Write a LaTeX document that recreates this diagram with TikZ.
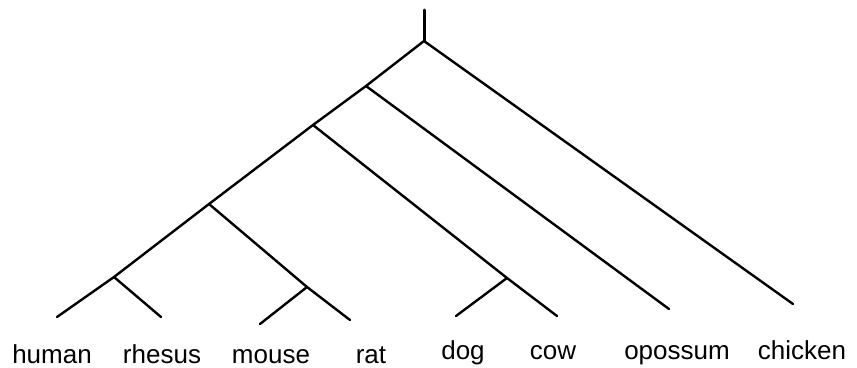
\documentclass[tikz,border=0pt]{standalone}
\usepackage{fontspec}
\setmainfont{Liberation Sans}
\usepackage{tikz}

\begin{document}
\begin{tikzpicture}[
  x=1pt, y=-1pt,
  branch/.style={
    draw=black,
    line width=2.4pt,
    line cap=round
  },
  taxon/.style={
    font=\fontsize{26}{30}\selectfont,
    anchor=base,
    inner sep=0pt
  }
]

\useasboundingbox (0,0) rectangle (857,367);

% -------------------------------------------------------------------
% inner nodes of the tree
% -------------------------------------------------------------------
\coordinate (top)      at (424,10);
\coordinate (root)     at (424,41);
\coordinate (theria)   at (366,86);
\coordinate (eutheria) at (313,125);
\coordinate (euarch)   at (209,204);
\coordinate (primates) at (114,277);
\coordinate (rodents)  at (307,287);
\coordinate (laura)    at (507,278);

% -------------------------------------------------------------------
% leaf tips
% -------------------------------------------------------------------
\coordinate (human)   at (57,317);
\coordinate (rhesus)  at (161,317);
\coordinate (mouse)   at (260,324);
\coordinate (rat)     at (350,320);
\coordinate (dog)     at (456,316);
\coordinate (cow)     at (557,316);
\coordinate (opossum) at (669,309);
\coordinate (chicken) at (793,304);

% Branches
\draw[branch, line width=3pt] (top) -- (root);
\draw[branch] (root) -- (theria);
\draw[branch] (root) -- (chicken);
\draw[branch] (theria) -- (eutheria);
\draw[branch] (theria) -- (opossum);
\draw[branch] (eutheria) -- (euarch);
\draw[branch] (eutheria) -- (laura);
\draw[branch] (euarch) -- (primates);
\draw[branch] (euarch) -- (rodents);
\draw[branch] (primates) -- (human);
\draw[branch] (primates) -- (rhesus);
\draw[branch] (rodents) -- (mouse);
\draw[branch] (rodents) -- (rat);
\draw[branch] (laura) -- (dog);
\draw[branch] (laura) -- (cow);

% Taxon labels
\node[taxon] (lhuman)   at (52,363)  {human};
\node[taxon] (lrhesus)  at (162,363) {rhesus};
\node[taxon] (lmouse)   at (271,363) {mouse};
\node[taxon] (lrat)     at (371,363) {rat};
\node[taxon] (ldog)     at (463,359) {dog};
\node[taxon] (lcow)     at (553,359) {cow};
\node[taxon] (lopossum) at (677,359) {opossum};
\node[taxon] (lchicken) at (802,359) {chicken};

\end{tikzpicture}
\end{document}
